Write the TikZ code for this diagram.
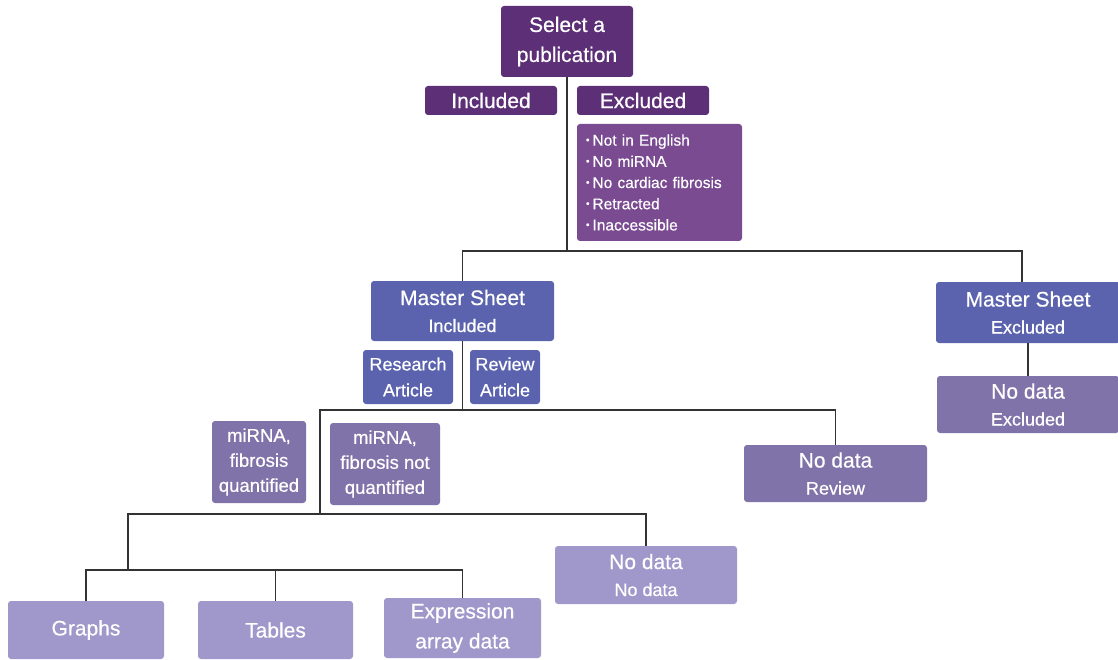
\documentclass[tikz,border=0pt]{standalone}
\usepackage{fontspec}
\setmainfont{Liberation Sans}[BoldFont={Liberation Sans}, BoldFeatures={FakeBold=0.5}]
\definecolor{cDark}{HTML}{5D2F77}
\definecolor{cList}{HTML}{7A4B91}
\definecolor{cMaster}{HTML}{5B63AE}
\definecolor{cMuted}{HTML}{7F73A9}
\definecolor{cLight}{HTML}{A097CA}
\definecolor{cLine}{HTML}{333333}
\newcommand{\ftMain}{\fontsize{21}{28}\selectfont}
\newcommand{\bulitem}{{\fontsize{10}{10}\selectfont\raisebox{2.3pt}{•}}\hspace{3pt}}
\tikzset{
  box/.style={rounded corners=3pt, text=white, align=center, inner sep=0pt, draw=none,
    execute at begin node=\bfseries},
  dark/.style={box, fill=cDark},
  listbox/.style={box, fill=cList, align=left, inner xsep=9pt, text width=147pt},
  master/.style={box, fill=cMaster},
  muted/.style={box, fill=cMuted},
  light/.style={box, fill=cLight},
  conn/.style={draw=cLine, line width=1.8pt}
}
\begin{document}
\begin{tikzpicture}[x=1pt,y=-1pt]
\useasboundingbox (0,0) rectangle (1118,660);
% nodes
\node[dark, minimum width=132pt, minimum height=71pt, font=\fontsize{21}{30}\selectfont] (sel) at (567,41.5) {Select a\\publication};
\node[dark, minimum width=132pt, minimum height=29pt, font=\ftMain] (inc) at (491,100.5) {Included};
\node[dark, minimum width=132pt, minimum height=29pt, font=\ftMain] (exc) at (643,100.5) {Excluded};
\node[listbox, minimum height=117pt, font=\fontsize{15.5}{21.2}\selectfont] (lst) at (659.5,182.5)
  {\bulitem Not in English\\\bulitem No miRNA\\\bulitem No cardiac fibrosis\\\bulitem Retracted\\\bulitem Inaccessible};
\node[master, minimum width=183pt, minimum height=60pt, font=\fontsize{21}{27}\selectfont] (msi) at (462.5,311) {Master Sheet\\\fontsize{18}{27}\selectfont Included};
\node[master, minimum width=184pt, minimum height=61pt, font=\fontsize{21}{27}\selectfont] (mse) at (1028,312.5) {Master Sheet\\\fontsize{18}{27}\selectfont Excluded};
\node[master, minimum width=90pt, minimum height=54pt, font=\fontsize{18}{26}\selectfont] (res) at (408,377) {Research\\Article};
\node[master, minimum width=70pt, minimum height=54pt, font=\fontsize{18}{26}\selectfont] (rev) at (505,377) {Review\\Article};
\node[muted, minimum width=182pt, minimum height=57pt, font=\fontsize{21}{27}\selectfont] (ndx) at (1028,404.5) {No data\\\fontsize{18}{27}\selectfont Excluded};
\node[muted, minimum width=94pt, minimum height=82pt, font=\fontsize{18.5}{25}\selectfont] (mq) at (259,462) {miRNA,\\fibrosis\\quantified};
\node[muted, minimum width=110pt, minimum height=82pt, font=\fontsize{18.5}{25}\selectfont] (mnq) at (385,464) {miRNA,\\fibrosis not\\quantified};
\node[muted, minimum width=183pt, minimum height=57pt, font=\fontsize{21}{27}\selectfont] (ndr) at (835.5,473.5) {No data\\\fontsize{18}{27}\selectfont Review};
\node[light, minimum width=182pt, minimum height=58pt, font=\fontsize{21}{27}\selectfont] (ndn) at (646,575) {No data\\\fontsize{18}{27}\selectfont No data};
\node[light, minimum width=156pt, minimum height=58pt, font=\ftMain] (gr) at (86,630) {Graphs};
\node[light, minimum width=155pt, minimum height=58pt, font=\ftMain] (tb) at (275.5,630) {Tables};
\node[light, minimum width=157pt, minimum height=60pt, font=\fontsize{21}{30}\selectfont] (ex) at (462.5,628) {Expression\\array data};
% junctions
\coordinate (j1) at (567,251);
\coordinate (j2) at (462.5,410);
\coordinate (j3) at (320,514);
\coordinate (j4) at (128,570);
% connectors
\draw[conn] (sel.south) -- (j1);
\draw[conn] (j1) -| (msi.north);
\draw[conn] (j1) -| ([xshift=-6pt]mse.north);
\draw[conn] (mse.south) -- (ndx.north);
\draw[conn] (msi.south) -- (j2);
\draw[conn] (j2) -| (j3);
\draw[conn] (j2) -| (ndr.north);
\draw[conn] (j3) -| (ndn.north);
\draw[conn] (j3) -| (j4);
\draw[conn] (j4) -| (gr.north);
\draw[conn] (j4) -| (tb.north);
\draw[conn] (j4) -| (ex.north);
\end{tikzpicture}
\end{document}
